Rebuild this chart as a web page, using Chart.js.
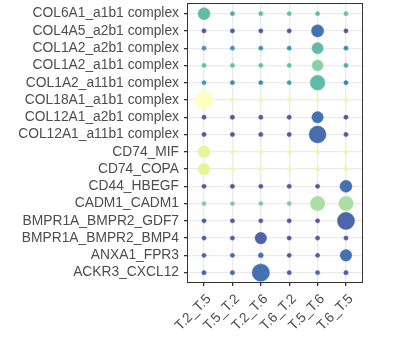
<!DOCTYPE html>
<html>
<head>
    <meta charset="utf-8">
    <title>Dot plot</title>
    <script src="https://cdn.jsdelivr.net/npm/chart.js@4.4.1/dist/chart.umd.min.js"></script>
    <style>
        html, body { margin: 0; padding: 0; background: #fff; overflow: hidden; }
        #wrap { width: 400px; height: 347px; position: relative; margin-top: -10px; }
    </style>
</head>
<body>
    <div id="wrap"><canvas id="dots"></canvas></div>
    <script>
    // ligand-receptor pairs, top to bottom
    var pairs = [
        "COL6A1_a1b1 complex", "COL4A5_a2b1 complex", "COL1A2_a2b1 complex",
        "COL1A2_a1b1 complex", "COL1A2_a11b1 complex", "COL18A1_a1b1 complex",
        "COL12A1_a2b1 complex", "COL12A1_a11b1 complex", "CD74_MIF", "CD74_COPA",
        "CD44_HBEGF", "CADM1_CADM1", "BMPR1A_BMPR2_GDF7", "BMPR1A_BMPR2_BMP4",
        "ANXA1_FPR3", "ACKR3_CXCL12"
    ];
    var groups = ["T.2_T.5", "T.5_T.2", "T.2_T.6", "T.6_T.2", "T.5_T.6", "T.6_T.5"];

    // dot size value (0..1), one line per pair
    var prob = [
        [0.60, 0.05, 0.05, 0.05, 0.05, 0.05],
        [0.05, 0.05, 0.05, 0.05, 0.62, 0.05],
        [0.05, 0.05, 0.05, 0.05, 0.55, 0.05],
        [0.05, 0.05, 0.05, 0.05, 0.53, 0.05],
        [0.05, 0.05, 0.05, 0.05, 0.80, 0.05],
        [0.98, 0.04, 0.04, 0.04, 0.04, 0.04],
        [0.05, 0.05, 0.05, 0.05, 0.56, 0.05],
        [0.05, 0.05, 0.05, 0.05, 0.95, 0.05],
        [0.60, 0.04, 0.04, 0.04, 0.04, 0.04],
        [0.58, 0.04, 0.04, 0.04, 0.04, 0.04],
        [0.05, 0.05, 0.05, 0.05, 0.05, 0.60],
        [0.04, 0.04, 0.04, 0.04, 0.78, 0.78],
        [0.05, 0.05, 0.05, 0.05, 0.05, 0.97],
        [0.05, 0.05, 0.57, 0.05, 0.05, 0.05],
        [0.05, 0.05, 0.10, 0.04, 0.04, 0.57],
        [0.06, 0.06, 0.99, 0.05, 0.05, 0.06]
    ];

    // colour value (0..1) on the Spectral scale
    var shade = [
        [0.38, 0.32, 0.40, 0.40, 0.40, 0.40],
        [0.02, 0.03, 0.03, 0.02, 0.12, 0.02],
        [0.25, 0.25, 0.25, 0.25, 0.38, 0.22],
        [0.40, 0.40, 0.40, 0.40, 0.50, 0.32],
        [0.28, 0.22, 0.22, 0.28, 0.38, 0.20],
        [1.00, 0.88, 0.88, 0.88, 0.88, 0.88],
        [0.02, 0.03, 0.03, 0.02, 0.12, 0.02],
        [0.02, 0.03, 0.03, 0.02, 0.10, 0.02],
        [0.80, 0.87, 0.87, 0.87, 0.87, 0.87],
        [0.80, 0.87, 0.87, 0.87, 0.87, 0.87],
        [0.03, 0.03, 0.03, 0.02, 0.02, 0.12],
        [0.47, 0.47, 0.47, 0.47, 0.60, 0.60],
        [0.03, 0.03, 0.03, 0.02, 0.02, 0.08],
        [0.03, 0.03, 0.07, 0.02, 0.02, 0.02],
        [0.08, 0.10, 0.12, 0.02, 0.03, 0.12],
        [0.08, 0.10, 0.12, 0.05, 0.10, 0.07]
    ];

    var stops = [[94, 79, 162], [50, 136, 189], [102, 194, 165], [171, 221, 164], [230, 245, 152], [255, 255, 191]];

    function spectral(t) {
        t = Math.max(0, Math.min(1, t)) * (stops.length - 1);
        var i = Math.min(Math.floor(t), stops.length - 2);
        var f = t - i;
        var c = [0, 1, 2].map(function(k) {
            return Math.round(stops[i][k] + (stops[i + 1][k] - stops[i][k]) * f);
        });
        return 'rgb(' + c.join(',') + ')';
    }

    function radius(v) {
        return 1.8 + 7 * v;
    }

    var points = [];
    for (var r = 0; r < pairs.length; r++) {
        for (var c = 0; c < groups.length; c++) {
            points.push({ x: c, y: r, v: prob[r][c], col: shade[r][c] });
        }
    }

    var font = { family: "'Liberation Sans', Arial, sans-serif", size: 13.8 };

    var frame = {
        id: 'frame',
        afterDatasetsDraw: function(chart) {
            var a = chart.chartArea, ctx = chart.ctx;
            ctx.save();
            ctx.strokeStyle = '#333333';
            ctx.lineWidth = 1;
            ctx.strokeRect(Math.round(a.left) + 0.5, Math.round(a.top) + 0.5,
                Math.round(a.right - a.left) - 1, Math.round(a.bottom - a.top) - 1);
            ctx.restore();
        }
    };

    new Chart(document.getElementById('dots'), {
        type: 'scatter',
        data: {
            datasets: [{
                data: points,
                pointRadius: function(ctx) { return radius(ctx.raw.v); },
                backgroundColor: function(ctx) { return spectral(ctx.raw.col); },
                borderColor: function(ctx) { return spectral(ctx.raw.col); },
                borderWidth: 0.5
            }]
        },
        options: {
            responsive: true,
            maintainAspectRatio: false,
            animation: false,
            layout: { padding: { left: 0, right: 37, top: 0, bottom: 0 } },
            plugins: { legend: { display: false }, tooltip: { enabled: false } },
            scales: {
                x: {
                    type: 'linear',
                    min: -0.6,
                    max: 5.6,
                    afterBuildTicks: function(s) { s.ticks = groups.map(function(g, i) { return { value: i }; }); },
                    afterFit: function(s) { s.height = 54; },
                    border: { display: false },
                    grid: { color: '#ebebeb', lineWidth: 1.3, tickColor: '#333333', tickLength: 3 },
                    ticks: {
                        autoSkip: false,
                        maxRotation: 45,
                        minRotation: 45,
                        padding: 5,
                        labelOffset: 5,
                        color: '#4d4d4d',
                        font: font,
                        callback: function(v) { return groups[v]; }
                    }
                },
                y: {
                    type: 'linear',
                    reverse: true,
                    min: -0.6,
                    max: 15.6,
                    afterBuildTicks: function(s) { s.ticks = pairs.map(function(p, i) { return { value: i }; }); },
                    afterFit: function(s) { s.width = 187; },
                    border: { display: false },
                    grid: { color: '#ebebeb', lineWidth: 1.3, tickColor: '#333333', tickLength: 3 },
                    ticks: {
                        autoSkip: false,
                        padding: 5,
                        color: '#4d4d4d',
                        font: font,
                        callback: function(v) { return pairs[v]; }
                    }
                }
            }
        },
        plugins: [frame]
    });
    </script>
</body>
</html>
